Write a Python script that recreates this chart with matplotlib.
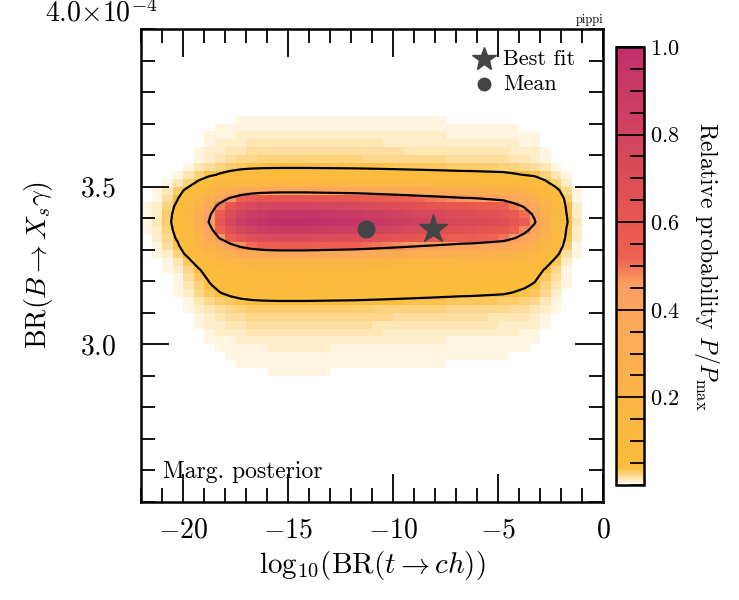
import matplotlib as mpl

mpl.use("Agg")
import matplotlib.pyplot as plt
import numpy as np
from matplotlib.colors import LinearSegmentedColormap
from matplotlib.ticker import FixedLocator, FuncFormatter, MultipleLocator

plt.rcParams["font.family"] = "serif"
plt.rcParams["font.serif"] = ["cmr10"]
plt.rcParams["mathtext.fontset"] = "cm"
plt.rcParams["axes.formatter.use_mathtext"] = True

# binning of the 2D posterior (x: log10 BR(t->ch), y: BR(B->Xs gamma) in 1e-4)
x_edges = np.arange(-22.0, 0.001, 0.5)
y_edges = np.arange(2.5, 4.0001, 0.025)

# relative profile along x, one value per 0.5-wide bin from -22 to 0
x_profile = [
    0.005, 0.012, 0.03, 0.07, 0.15, 0.30, 0.46, 0.62, 0.75, 0.86, 0.93,
    0.97, 0.99, 1.00, 1.00, 1.00, 0.99, 0.98, 0.97, 0.96, 0.95, 0.93,
    0.91, 0.89, 0.87, 0.85, 0.83, 0.81, 0.79, 0.77, 0.75, 0.74, 0.72,
    0.70, 0.68, 0.62, 0.55, 0.46, 0.30, 0.15, 0.05, 0.012, 0.0, 0.0,
]

# relative profile along y, one value per 0.025-wide bin from 2.5 to 4.0
y_profile = [
    0.0, 0.0, 0.0, 0.0, 0.0, 0.0, 0.0, 0.0, 0.0, 0.0, 0.0, 0.0008,
    0.0015, 0.002, 0.0025, 0.003, 0.004, 0.005, 0.006, 0.008, 0.010,
    0.013, 0.017, 0.022, 0.030, 0.045, 0.07, 0.09, 0.11, 0.14, 0.22,
    0.38, 0.55, 0.74, 0.88, 1.00, 0.93, 0.80, 0.62, 0.40, 0.18, 0.08,
    0.04, 0.025, 0.018, 0.013, 0.010, 0.007, 0.005, 0.0035, 0.0025,
    0.002, 0.0015, 0.0012, 0.0005, 0.0, 0.0, 0.0, 0.0, 0.0,
]

contour_levels = [0.045, 0.45]
best_fit = (-8.1, 3.365)
post_mean = (-11.3, 3.365)

cmap = LinearSegmentedColormap.from_list(
    "pippi_like",
    [
        (0.0, "#ffffff"),
        (0.0015, "#fff9ee"),
        (0.008, "#ffedc8"),
        (0.02, "#fdd68a"),
        (0.04, "#fbbd3b"),
        (0.2, "#fbb545"),
        (0.4, "#fca65e"),
        (0.46, "#fa9e62"),
        (0.52, "#ee6152"),
        (0.6, "#e8574f"),
        (0.8, "#d1445f"),
        (1.0, "#c12f6b"),
    ],
)

prob = np.outer(y_profile, x_profile)
prob = prob / prob.max()
x_c = 0.5 * (x_edges[1:] + x_edges[:-1])
y_c = 0.5 * (y_edges[1:] + y_edges[:-1])

fig = plt.figure(figsize=(7.39, 6.0), dpi=100)
ax = fig.add_axes([0.1908, 0.1633, 0.6252, 0.7884])
cax = fig.add_axes([0.8336, 0.1917, 0.0378, 0.73])

mesh = ax.pcolormesh(x_edges, y_edges, prob, cmap=cmap, vmin=0, vmax=1)
ax.contour(x_c, y_c, prob, levels=contour_levels, colors="k", linewidths=1.6)

ax.plot(*post_mean, "o", color="#444444", markersize=12, zorder=5)
ax.plot(*best_fit, "*", color="#444444", markersize=21, zorder=5)

ax.set_xlim(-22, 0)
ax.set_ylim(2.5, 4.0)
ax.xaxis.set_major_locator(MultipleLocator(5))
ax.xaxis.set_minor_locator(MultipleLocator(1))
ax.yaxis.set_major_locator(FixedLocator([3.0, 3.5]))
ax.yaxis.set_minor_locator(MultipleLocator(0.1))
ax.xaxis.set_major_formatter(FuncFormatter(lambda v, p: "$%d$" % v))
ax.yaxis.set_major_formatter(FuncFormatter(lambda v, p: "$%.1f$" % v))
ax.tick_params(which="both", direction="in", top=True, right=True, width=1.3)
ax.tick_params(which="major", length=20, labelsize=20, pad=11)
ax.tick_params(which="minor", length=10)
ax.tick_params(axis="y", pad=18)
for sp in ax.spines.values():
    sp.set_linewidth(1.8)

ax.set_xlabel(r"$\mathrm{log}_{10}(\mathrm{BR}(t \rightarrow ch))$", fontsize=21,
              labelpad=4)
ax.set_ylabel(r"$\mathrm{BR}(B \rightarrow X_s\gamma)$", fontsize=20, labelpad=18)
ax.text(0.035, 1.003, r"$4.0{\times}10^{-4}$", transform=ax.transAxes,
        ha="right", va="bottom", fontsize=20)
ax.text(1.0, 1.006, "pippi", transform=ax.transAxes, ha="right", va="bottom",
        fontsize=9)
ax.text(0.048, 0.063, "Marg. posterior", transform=ax.transAxes, ha="left",
        va="center", fontsize=17)

# legend drawn by hand in axes coordinates
ax.plot([0.742], [0.937], "*", color="#444444", markersize=18,
        transform=ax.transAxes, clip_on=False)
ax.text(0.783, 0.937, "Best fit", transform=ax.transAxes, ha="left",
        va="center", fontsize=16)
ax.plot([0.742], [0.884], "o", color="#444444", markersize=9,
        transform=ax.transAxes, clip_on=False)
ax.text(0.783, 0.884, "Mean", transform=ax.transAxes, ha="left",
        va="center", fontsize=16)

cb = fig.colorbar(mesh, cax=cax)
cb.set_ticks([0.2, 0.4, 0.6, 0.8, 1.0])
cb.ax.yaxis.set_minor_locator(MultipleLocator(0.05))
cb.ax.yaxis.set_major_formatter(FuncFormatter(lambda v, p: "$%.1f$" % v))
cb.ax.tick_params(which="both", direction="in", left=False, right=True,
                  width=1.3, labelsize=16, pad=4)
cb.ax.tick_params(which="major", length=20)
cb.ax.tick_params(which="minor", length=10)
cb.outline.set_linewidth(1.8)
cb.set_label(r"Relative probability $P/P_\mathrm{max}$", fontsize=17,
             rotation=-90, labelpad=30)

fig.savefig("out.png", dpi=100)
